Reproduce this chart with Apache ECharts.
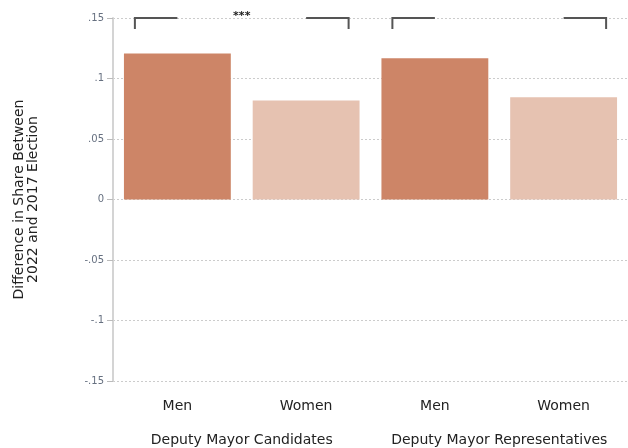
<!DOCTYPE html>
<html>
<head>
<meta charset="utf-8">
<script src="https://cdn.jsdelivr.net/npm/echarts@6/dist/echarts.min.js"></script>
<style>html,body{margin:0;padding:0;background:#fff;}#c{width:628px;height:448px;}</style>
</head>
<body>
<div id="c"></div>
<script>
var categories = ['Men', 'Women', 'Men', 'Women'];
var groups = ['Deputy Mayor Candidates', 'Deputy Mayor Representatives'];
var values = [0.1207, 0.0818, 0.1168, 0.0846];
var barColors = ['#CD8567', '#E6C2B1', '#CD8567', '#E6C2B1'];
var brackets = [[0, 1, '***'], [2, 3, '']];
var yTitle = 'Difference in Share Between\n2022 and 2017 Election';

var chart = echarts.init(document.getElementById('c'), null, {renderer: 'canvas'});
var font = 'DejaVu Sans, sans-serif';
chart.setOption({
  animation: false,
  backgroundColor: '#fff',
  grid: {left: 113, top: 18, width: 518, bottom: 67, containLabel: false},
  xAxis: [{
    type: 'category', data: categories,
    axisLine: {show: false}, axisTick: {show: false},
    axisLabel: {interval: 0, margin: 18, fontSize: 14, color: '#222', fontFamily: font}
  }, {
    type: 'category', data: groups, position: 'bottom', offset: 34,
    axisLine: {show: false}, axisTick: {show: false},
    axisLabel: {interval: 0, hideOverlap: false, margin: 18, fontSize: 14, color: '#222', fontFamily: font}
  }],
  yAxis: {
    type: 'value', min: -0.15, max: 0.15, interval: 0.05,
    name: yTitle, nameLocation: 'middle', nameGap: 73, nameRotate: 90,
    nameTextStyle: {fontSize: 14, color: '#222', fontFamily: font, lineHeight: 14},
    axisLine: {show: true, lineStyle: {color: '#d4d4d4', width: 2}},
    axisTick: {show: true, length: 6, lineStyle: {color: '#bbb'}},
    axisLabel: {margin: 9, fontSize: 10, color: '#667080', fontFamily: font,
      formatter: function (v) {
        var r = Math.round(v * 100) / 100;
        if (r === 0) return '0';
        return String(r).replace('0.', '.');
      }},
    splitLine: {show: true, lineStyle: {color: '#cccccc', type: [2, 2], width: 1}}
  },
  series: [{
    type: 'bar', xAxisIndex: 0, barWidth: '83%',
    data: values.map(function (v, i) { return {value: v, itemStyle: {color: barColors[i]}}; })
  }, {
    type: 'custom', xAxisIndex: 0, clip: false, z: 5,
    data: brackets,
    renderItem: function (params, api) {
      var p0 = api.coord([api.value(0), 0.15]);
      var p1 = api.coord([api.value(1), 0.15]);
      var bw = api.size([1, 0])[0];
      var off = bw * 0.33;
      var drop = 11;
      var style = {stroke: '#555', lineWidth: 2, fill: null};
      var children = [
        {type: 'polyline', shape: {points: [[p0[0] - off, p0[1] + drop], [p0[0] - off, p0[1]], [p0[0], p0[1]]]}, style: style},
        {type: 'polyline', shape: {points: [[p1[0], p1[1]], [p1[0] + off, p1[1]], [p1[0] + off, p1[1] + drop]]}, style: style}
      ];
      var lbl = brackets[params.dataIndex][2];
      if (lbl) {
        children.push({type: 'text', style: {text: lbl, x: (p0[0] + p1[0]) / 2, y: p0[1] - 2,
          align: 'center', verticalAlign: 'middle', fontSize: 11, fontWeight: 'bold', fill: '#222', fontFamily: font}});
      }
      return {type: 'group', children: children};
    }
  }]
});
</script>
</body>
</html>
